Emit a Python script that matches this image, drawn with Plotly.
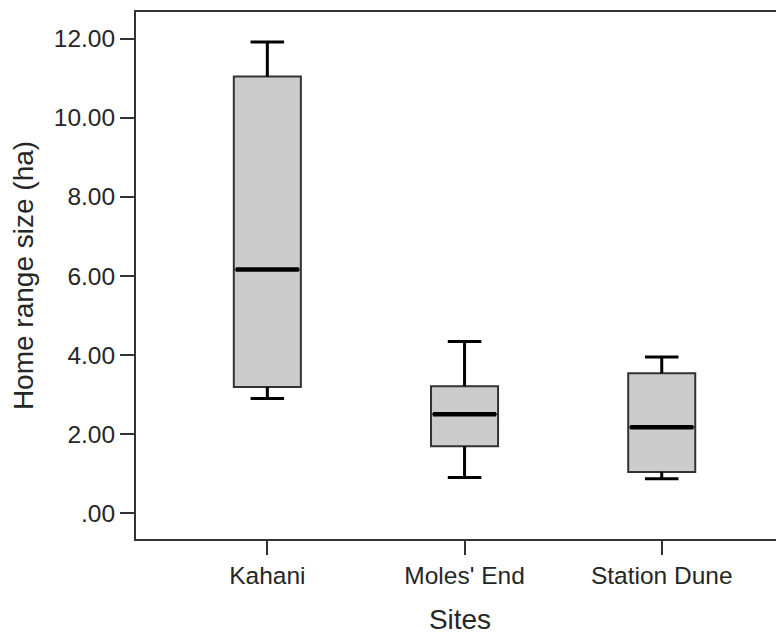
import plotly.graph_objects as go

# ---- data ----
sites = ["Kahani", "Moles' End", "Station Dune"]
lower_whisker = [2.90, 0.90, 0.87]
q1 = [3.19, 1.69, 1.04]
median = [6.16, 2.50, 2.17]
q3 = [11.05, 3.21, 3.54]
upper_whisker = [11.92, 4.34, 3.95]
y_tick_values = [0, 2, 4, 6, 8, 10, 12]
y_tick_labels = [".00", "2.00", "4.00", "6.00", "8.00", "10.00", "12.00"]

# ---- styling ----
FONT = "Liberation Sans"
TEXT = "#262626"
AXIS = "#333333"
BOX_W = 0.34
CAP_W = 0.17

pos = list(range(len(sites)))

fig = go.Figure()

# whiskers (stems + caps)
wx, wy = [], []
for p, lo, a, b, hi in zip(pos, lower_whisker, q1, q3, upper_whisker):
    wx += [p, p, None, p - CAP_W / 2, p + CAP_W / 2, None,
           p, p, None, p - CAP_W / 2, p + CAP_W / 2, None]
    wy += [b, hi, None, hi, hi, None,
           a, lo, None, lo, lo, None]
fig.add_trace(go.Scatter(x=wx, y=wy, mode="lines",
                         line=dict(color="#000000", width=3),
                         hoverinfo="skip", showlegend=False))

# boxes
fig.add_trace(go.Box(x=pos, q1=q1, median=median, q3=q3,
                     lowerfence=q1, upperfence=q3,
                     width=BOX_W, whiskerwidth=0,
                     fillcolor="#cccccc",
                     line=dict(color=AXIS, width=2),
                     boxpoints=False, showlegend=False))

# thick medians
mx, my = [], []
for p, m in zip(pos, median):
    mx += [p - BOX_W / 2 + 0.01, p + BOX_W / 2 - 0.01, None]
    my += [m, m, None]
fig.add_trace(go.Scatter(x=mx, y=my, mode="lines",
                         line=dict(color="#000000", width=4.5),
                         hoverinfo="skip", showlegend=False))

fig.update_layout(
    width=776, height=627,
    margin=dict(l=128, r=0, t=4, b=96),
    paper_bgcolor="white", plot_bgcolor="white",
    font=dict(family=FONT, color=TEXT, size=24.5),
    xaxis=dict(
        range=[-0.666, 2.62],
        tickmode="array", tickvals=pos, ticktext=sites,
        showline=True, linecolor=AXIS, linewidth=2, mirror=True,
        ticks="outside", ticklen=14, tickwidth=2, tickcolor=AXIS,
        showgrid=False, zeroline=False,
        tickfont=dict(size=24.5, family=FONT, color=TEXT),
        title=dict(text="Sites", font=dict(size=28, family=FONT, color=TEXT),
                   standoff=22),
    ),
    yaxis=dict(
        range=[-0.658, 12.68],
        tickmode="array", tickvals=y_tick_values, ticktext=y_tick_labels,
        showline=True, linecolor=AXIS, linewidth=2, mirror=False,
        ticks="outside", ticklen=14, tickwidth=2, tickcolor=AXIS,
        showgrid=False, zeroline=False,
        tickfont=dict(size=24.5, family=FONT, color=TEXT),
        title=dict(text="Home range size (ha)",
                   font=dict(size=28, family=FONT, color=TEXT), standoff=20),
    ),
)

fig.write_html("out.html")
